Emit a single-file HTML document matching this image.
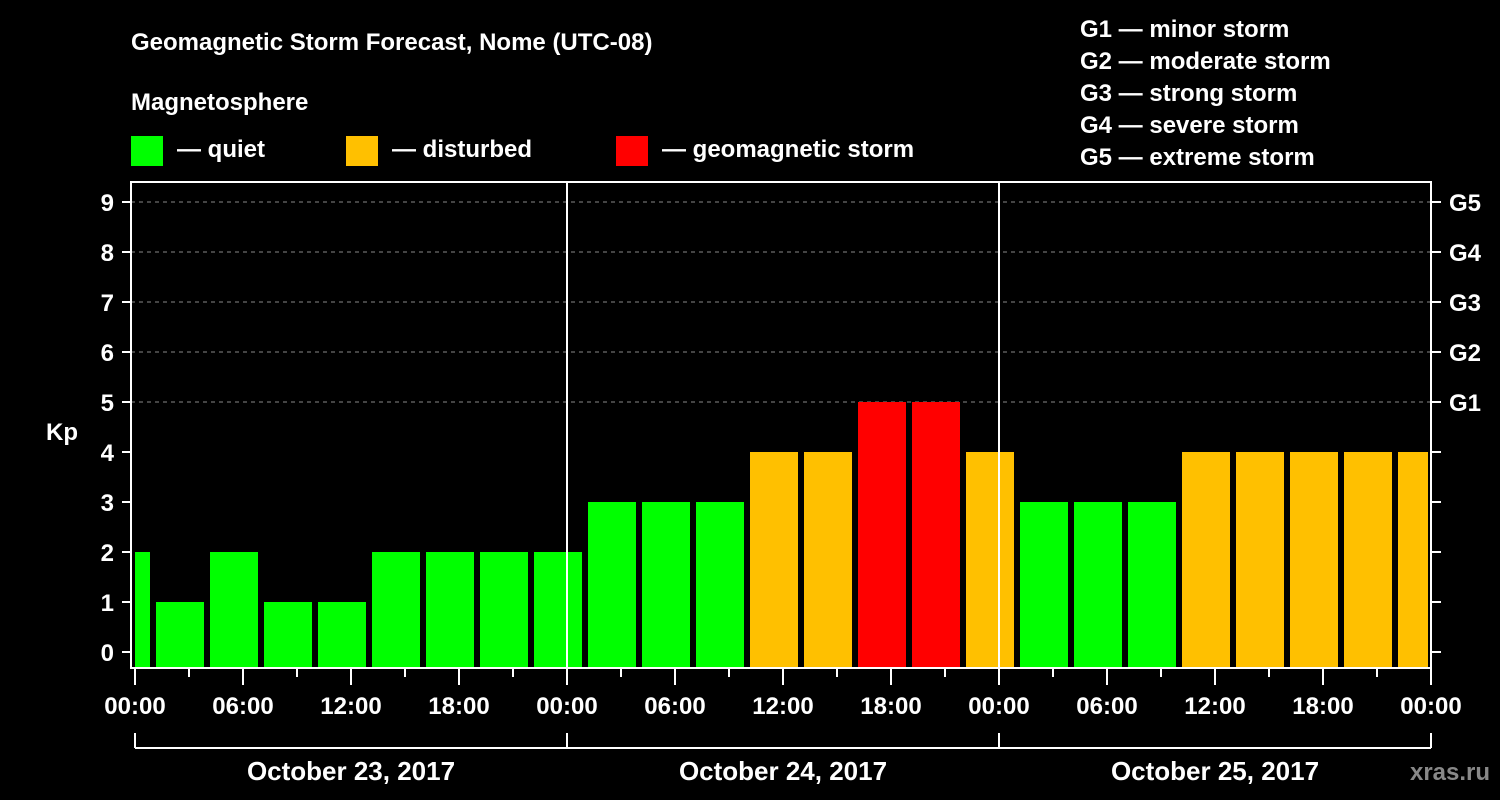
<!DOCTYPE html>
<html><head><meta charset="utf-8"><style>
html,body{margin:0;padding:0;background:#000;}
svg{display:block;font-family:"Liberation Sans",Arial,sans-serif;font-weight:bold;}
</style></head><body>
<svg id="c" width="1500" height="800" viewBox="0 0 1500 800">
<rect x="0" y="0" width="1500" height="800" fill="#000"/>
<text x="131" y="50" font-size="24" fill="#fff">Geomagnetic Storm Forecast, Nome (UTC-08)</text>
<text x="131" y="110" font-size="24" fill="#fff">Magnetosphere</text>
<g><rect x="131" y="136" width="32" height="30" fill="#00ff00"/><text x="177" y="157" font-size="24" fill="#fff">— quiet</text></g>
<g><rect x="346" y="136" width="32" height="30" fill="#ffc000"/><text x="392" y="157" font-size="24" fill="#fff">— disturbed</text></g>
<g><rect x="616" y="136" width="32" height="30" fill="#ff0000"/><text x="662" y="157" font-size="24" fill="#fff">— geomagnetic storm</text></g>
<g font-size="24" fill="#fff">
<text x="1080" y="37">G1 — minor storm</text>
<text x="1080" y="69">G2 — moderate storm</text>
<text x="1080" y="101">G3 — strong storm</text>
<text x="1080" y="133">G4 — severe storm</text>
<text x="1080" y="165">G5 — extreme storm</text>
</g>
<text x="62" y="440" font-size="24" fill="#fff" text-anchor="middle">Kp</text>
<g id="grid"></g><g id="bars"></g><g id="axes"></g>
<text x="1450" y="780" font-size="24" fill="#888" text-anchor="middle">xras.ru</text>
</svg>
<script>
const kpValues=[2,1,2,1,1,2,2,2,2,3,3,3,4,4,5,5,4,3,3,3,4,4,4,4,4];
const startHour=-2;
const slotHours=3;
const yTicks=[0,1,2,3,4,5,6,7,8,9];
const gLabels=["G1","G2","G3","G4","G5"];
const gLevels=[5,6,7,8,9];
const xTickLabels=["00:00","06:00","12:00","18:00","00:00","06:00","12:00","18:00","00:00","06:00","12:00","18:00","00:00"];
const dayLabels=["October 23, 2017","October 24, 2017","October 25, 2017"];

const NS="http://www.w3.org/2000/svg";
const L=131,R=1431,T=182,B=668,X0=135;
const x=h=>X0+h*18;
const y=v=>652-v*50;
function mk(tag,attrs,parent,txt){const e=document.createElementNS(NS,tag);for(const k in attrs)e.setAttribute(k,attrs[k]);if(txt!==undefined)e.textContent=txt;parent.appendChild(e);return e;}
const grid=document.getElementById('grid'),bars=document.getElementById('bars'),axes=document.getElementById('axes');
gLevels.forEach(v=>{const l=mk('line',{x1:L,x2:R,y1:y(v),y2:y(v),stroke:'#888','stroke-width':1,'stroke-dasharray':'4,4'},grid);

});
kpValues.forEach((v,i)=>{const h0=startHour+i*slotHours;let x1=x(h0)+3,x2=x(h0+slotHours)-3;
x1=Math.max(x1,x(0));x2=Math.min(x2,x(72)-3);
const col=v>=5?'#ff0000':(v>=4?'#ffc000':'#00ff00');
const r=mk('rect',{x:x1,y:y(v),width:x2-x1,height:B-1-y(v),fill:col},bars);

});
// frame
const f=mk('rect',{x:L,y:T,width:R-L,height:B-T,fill:'none',stroke:'#fff','stroke-width':2},axes);


[24,48].forEach(h=>{const l=mk('line',{x1:x(h),x2:x(h),y1:T,y2:B,stroke:'#fff','stroke-width':2},axes);

});
yTicks.forEach(v=>{mk('line',{x1:122,x2:L,y1:y(v),y2:y(v),stroke:'#fff','stroke-width':2},axes);
mk('line',{x1:R,x2:R+10,y1:y(v),y2:y(v),stroke:'#fff','stroke-width':2},axes);
const t=mk('text',{x:114,y:y(v)+9,'font-size':24,fill:'#fff','text-anchor':'end'},axes,String(v));

});
gLevels.forEach((v,i)=>{const t=mk('text',{x:1449,y:y(v)+9,'font-size':24,fill:'#fff'},axes,gLabels[i]);

});
for(let h=0;h<=72;h+=3){const major=h%6===0;mk('line',{x1:x(h),x2:x(h),y1:B,y2:B+(major?17:9),stroke:'#fff','stroke-width':2},axes);}
xTickLabels.forEach((s,i)=>{const t=mk('text',{x:x(i*6),y:714,'font-size':24,fill:'#fff','text-anchor':'middle'},axes,s);

});
mk('line',{x1:x(0),x2:x(72),y1:748,y2:748,stroke:'#fff','stroke-width':2},axes);
[0,24,48,72].forEach(h=>mk('line',{x1:x(h),x2:x(h),y1:733,y2:748,stroke:'#fff','stroke-width':2},axes));
dayLabels.forEach((s,i)=>{const t=mk('text',{x:x(i*24+12),y:780,'font-size':26,fill:'#fff','text-anchor':'middle'},axes,s);

});
</script>
</body></html>
